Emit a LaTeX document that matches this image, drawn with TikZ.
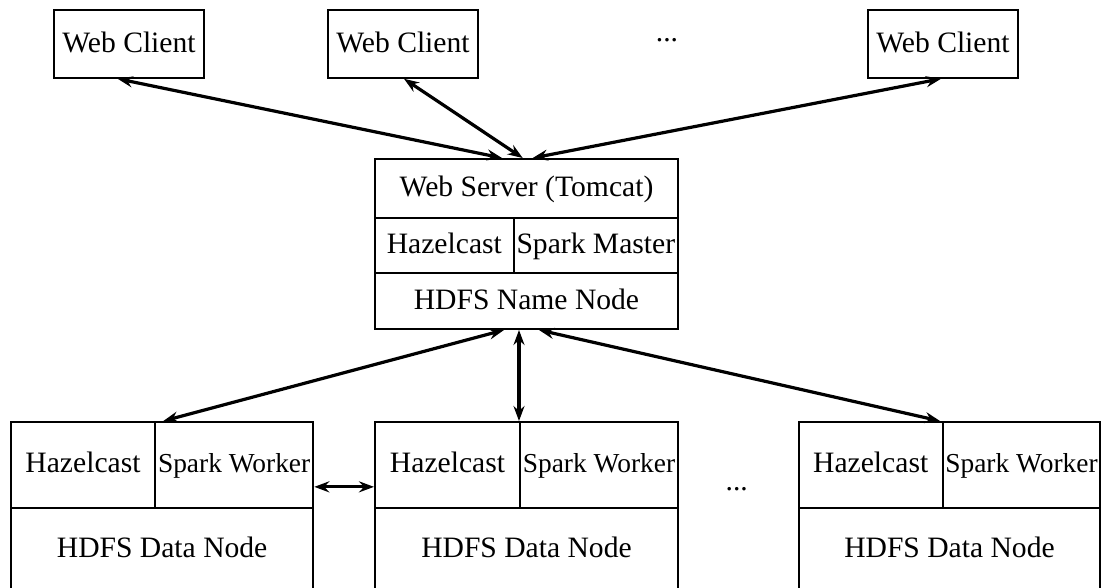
\documentclass[tikz,border=0pt]{standalone}
\usepackage{fontspec}
\setmainfont{Liberation Serif}
\usetikzlibrary{arrows.meta}
\begin{document}
\begin{tikzpicture}[x=1pt,y=-1pt,
  cell/.style={draw, line width=2pt, inner sep=0pt, anchor=north west,
    font=\fontsize{29.6}{34}\selectfont, text height=22pt, text depth=6pt},
  small/.style={font=\fontsize{27.4}{32}\selectfont},
  dots/.style={inner sep=0pt, font=\fontsize{29.6}{34}\selectfont},
  conn/.style={{Stealth[length=15pt,width=11pt,inset=5pt]}-{Stealth[length=15pt,width=11pt,inset=5pt]}, line width=3.2pt},
]
\clip (0,0) rectangle (1103,588);
% web clients
\node[cell, minimum width=150pt, minimum height=67.5pt] (wc1) at (53,9.3) {Web Client};
\node[cell, minimum width=150pt, minimum height=67.5pt] (wc2) at (327,9.3) {Web Client};
\node[cell, minimum width=150pt, minimum height=67.5pt] (wc3) at (867,9.3) {Web Client};
\node[dots] (dotsTop) at (667,40) {...};
% server
\node[cell, minimum width=303pt, minimum height=59pt] (srvA) at (374,158) {Web Server (Tomcat)};
\node[cell, minimum width=138.7pt, minimum height=55pt] (srvB) at (374,217) {Hazelcast};
\node[cell, minimum width=164.3pt, minimum height=55pt] (srvC) at (512.7,217) {Spark Master};
\node[cell, minimum width=303pt, minimum height=56pt] (srvD) at (374,272) {HDFS Name Node};
% data nodes
\node[cell, minimum width=144pt, minimum height=85.7pt] (d1a) at (10,421) {Hazelcast};
\node[cell, small, minimum width=158.3pt, minimum height=85.7pt] (d1b) at (154,421) {Spark Worker};
\node[cell, minimum width=302.3pt, minimum height=84pt] (d1c) at (10,506.7) {HDFS Data Node};
\node[cell, minimum width=145pt, minimum height=85.7pt] (d2a) at (374,421) {Hazelcast};
\node[cell, small, minimum width=158pt, minimum height=85.7pt] (d2b) at (519,421) {Spark Worker};
\node[cell, minimum width=303pt, minimum height=84pt] (d2c) at (374,506.7) {HDFS Data Node};
\node[cell, minimum width=144pt, minimum height=85.7pt] (d3a) at (797.7,421) {Hazelcast};
\node[cell, small, minimum width=157.6pt, minimum height=85.7pt] (d3b) at (941.7,421) {Spark Worker};
\node[cell, minimum width=301.6pt, minimum height=84pt] (d3c) at (797.7,506.7) {HDFS Data Node};
\node[dots] (dotsBot) at (736.7,489) {...};
% connectors
\draw[conn] ([xshift=-11.3pt]wc1.south) -- ([xshift=-24.5pt]srvA.north);
\draw[conn] ([xshift=1pt]wc2.south) -- ([xshift=-3.8pt]srvA.north);
\draw[conn] ([xshift=-2pt]wc3.south) -- ([xshift=6.2pt]srvA.north);
\draw[conn] ([xshift=-22.5pt]srvD.south) -- ([xshift=9.3pt]d1b.north west);
\draw[conn] (d2b.north west |- srvD.south) -- (d2b.north west);
\draw[conn] ([xshift=12.5pt]srvD.south) -- ([xshift=-1.7pt]d3b.north west);
\draw[conn] ([yshift=-22pt]d1b.east) -- ([yshift=-22pt]d2a.west);
\end{tikzpicture}
\end{document}
